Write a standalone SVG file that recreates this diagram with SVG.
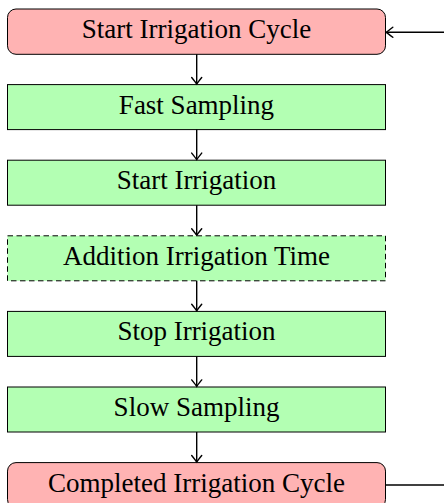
<svg xmlns="http://www.w3.org/2000/svg" width="444" height="503" viewBox="0 0 444 503">
<style>
.red{fill:#ffb3b3;stroke:#000;stroke-width:1}
.green{fill:#b3ffb3;stroke:#000;stroke-width:1}
.dash{stroke-dasharray:5.5 3.5}
text{font-family:"Liberation Serif","Times New Roman",serif;font-size:27px;text-anchor:middle;fill:#000}
.conn line{stroke:#000;stroke-width:1.4;fill:none}
</style>
<defs>
<marker id="ah" markerWidth="12" markerHeight="12" viewBox="-8 -6 10 12" refX="0" refY="0" orient="auto" markerUnits="userSpaceOnUse">
<path d="M-6.5,-5 Q-1.5,-1 0,0 Q-1.5,1 -6.5,5" fill="none" stroke="#000" stroke-width="1.4" stroke-linecap="round"/>
</marker>
</defs>
<g id="n1"><rect class="red" x="7.5" y="9" width="378" height="45.3" rx="8.5"/><text x="196.5" y="38">Start Irrigation Cycle</text></g>
<g id="n2"><rect class="green" x="7.5" y="84.6" width="378" height="45"/><text x="196.5" y="113.6">Fast Sampling</text></g>
<g id="n3"><rect class="green" x="7.5" y="160.2" width="378" height="45"/><text x="196.5" y="189.2">Start Irrigation</text></g>
<g id="n4"><rect class="green dash" x="7.5" y="235.8" width="378" height="45"/><text x="196.5" y="264.8">Addition Irrigation Time</text></g>
<g id="n5"><rect class="green" x="7.5" y="311.4" width="378" height="45"/><text x="196.5" y="340.4">Stop Irrigation</text></g>
<g id="n6"><rect class="green" x="7.5" y="387" width="378" height="45"/><text x="196.5" y="416">Slow Sampling</text></g>
<g id="n7"><rect class="red" x="7.5" y="462.6" width="378" height="45.3" rx="8.5"/><text x="196.5" y="491.6">Completed Irrigation Cycle</text></g>
<g class="conn" id="connectors">
<line x1="196.7" y1="54.3" x2="196.7" y2="84" marker-end="url(#ah)"/>
<line x1="196.7" y1="129.6" x2="196.7" y2="159.6" marker-end="url(#ah)"/>
<line x1="196.7" y1="205.2" x2="196.7" y2="235.2" marker-end="url(#ah)"/>
<line x1="196.7" y1="280.8" x2="196.7" y2="310.8" marker-end="url(#ah)"/>
<line x1="196.7" y1="356.4" x2="196.7" y2="386.4" marker-end="url(#ah)"/>
<line x1="196.7" y1="432" x2="196.7" y2="462" marker-end="url(#ah)"/>
<line x1="444" y1="32.3" x2="386.3" y2="32.3" marker-end="url(#ah)"/>
<line x1="385.5" y1="485" x2="444" y2="485"/>
</g>
</svg>
